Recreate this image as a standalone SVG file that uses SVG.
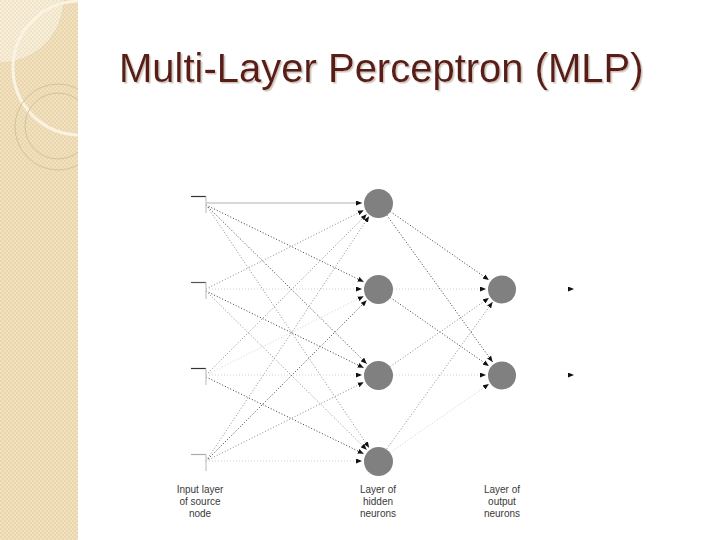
<svg xmlns="http://www.w3.org/2000/svg" width="720" height="540" viewBox="0 0 720 540">
  <defs>
    <pattern id="check" width="4" height="4" patternUnits="userSpaceOnUse">
      <rect width="4" height="4" fill="#f1e1bf"/>
      <rect width="2" height="2" fill="#e9d6ae"/>
      <rect x="2" y="2" width="2" height="2" fill="#e9d6ae"/>
    </pattern>
    <pattern id="checkLight" width="4" height="4" patternUnits="userSpaceOnUse">
      <rect width="4" height="4" fill="#f7eedb"/>
      <rect width="2" height="2" fill="#f0e3c6"/>
      <rect x="2" y="2" width="2" height="2" fill="#f0e3c6"/>
    </pattern>
    <clipPath id="panelClip"><rect x="0" y="0" width="78" height="540"/></clipPath>
    <filter id="tshadow" x="-5%" y="-20%" width="110%" height="150%">
      <feDropShadow dx="1.5" dy="1.5" stdDeviation="0.6" flood-color="#c9beb5" flood-opacity="0.9"/>
    </filter>
    <marker id="arr" markerWidth="6" markerHeight="5" refX="6" refY="2.5" orient="auto" markerUnits="userSpaceOnUse">
      <path d="M0,0 L6,2.5 L0,5 z" fill="#111"/>
    </marker>
  </defs>
  <style>
    .title { font-family: "Liberation Sans", Arial, sans-serif; font-size: 40px; fill: #5a1d12; filter: url(#tshadow); }
    .lbl { font-family: "Liberation Sans", Arial, sans-serif; font-size: 10px; fill: #3a3a3a; text-anchor: middle; }
    .neuron { fill: #808080; }
    .d1 { stroke: #3a3a3a; stroke-width: 1; stroke-dasharray: 1 2; fill: none; marker-end: url(#arr); }
    .d2 { stroke: #8a8a8a; stroke-width: 1; stroke-dasharray: 1 2; fill: none; marker-end: url(#arr); }
    .d3 { stroke: #d0d0d0; stroke-width: 1; stroke-dasharray: 1 2; fill: none; marker-end: url(#arr); }
    .s1 { stroke: #b0b0b0; stroke-width: 1; fill: none; marker-end: url(#arr); }
    .inH { stroke: #333; stroke-width: 1.2; }
    .inV { stroke: #c4c4c4; stroke-width: 1.2; }
  </style>

  <rect width="720" height="540" fill="#ffffff"/>

  <!-- decorative left panel -->
  <g id="panel" clip-path="url(#panelClip)">
    <rect x="0" y="0" width="78" height="540" fill="url(#check)"/>
    <path d="M0,0 L64,0 A64,64 0 0 1 0,63 Z" fill="url(#checkLight)"/>
    <path d="M64,0 A64,64 0 0 1 0,63" fill="none" stroke="#e4d4b4" stroke-width="0.8"/>
    <circle cx="80" cy="68" r="67" fill="none" stroke="#fbf3e2" stroke-width="3"/>
    <circle cx="58" cy="127" r="43" fill="none" stroke="#d2bd95" stroke-width="0.9"/>
    <circle cx="58" cy="126" r="33" fill="none" stroke="#d2bd95" stroke-width="0.9"/>
  </g>

  <!-- title -->
  <text class="title" x="119" y="82">Multi-Layer Perceptron (MLP)</text>

  <!-- connectors -->
  <g id="connectors">
    <!-- input 1 (206,203) -->
    <line class="s1" x1="206" y1="203" x2="362" y2="203"/>
    <line class="d1" x1="206" y1="205" x2="363.7" y2="281.8"/>
    <line class="d1" x1="206" y1="205" x2="366.7" y2="363.7"/>
    <line class="d2" x1="206" y1="205" x2="369.1" y2="447.7"/>
    <!-- input 2 (206,289) -->
    <line class="d2" x1="206" y1="289" x2="363.7" y2="210.2"/>
    <line class="d3" x1="206" y1="289" x2="362" y2="289"/>
    <line class="d1" x1="206" y1="291" x2="363.7" y2="367.8"/>
    <line class="d2" x1="206" y1="291" x2="366.7" y2="449.7"/>
    <!-- input 3 (206,375) -->
    <line class="d2" x1="206" y1="375" x2="366.7" y2="214.3"/>
    <line class="d3" x1="206" y1="375" x2="363.7" y2="296.2"/>
    <line class="d3" x1="206" y1="375" x2="362" y2="375"/>
    <line class="d1" x1="206" y1="377" x2="363.7" y2="453.8"/>
    <!-- input 4 (206,461) -->
    <line class="d2" x1="206" y1="461" x2="369.1" y2="216.3"/>
    <line class="d1" x1="206" y1="461" x2="366.7" y2="300.3"/>
    <line class="d2" x1="206" y1="461" x2="363.7" y2="382.2"/>
    <line class="d3" x1="206" y1="461" x2="362" y2="461"/>
    <!-- hidden to output -->
    <line class="d1" x1="390.3" y1="211.5" x2="488.9" y2="279.9"/>
    <line class="d1" x1="386.8" y1="215.2" x2="492.6" y2="362.0"/>
    <line class="d3" x1="393" y1="289" x2="486" y2="289"/>
    <line class="d1" x1="390.3" y1="297.5" x2="488.9" y2="365.9"/>
    <line class="d2" x1="390.3" y1="366.5" x2="488.9" y2="298.1"/>
    <line class="d3" x1="393" y1="375" x2="486" y2="375"/>
    <line class="d2" x1="386.8" y1="448.8" x2="492.6" y2="302.0"/>
    <line class="d3" x1="390.3" y1="452.5" x2="488.9" y2="384.1"/>
    <!-- outputs -->
    <line class="d3" x1="560" y1="289" x2="574" y2="289" style="stroke:#f0f0f0"/>
    <line class="d3" x1="560" y1="375" x2="574" y2="375" style="stroke:#f0f0f0"/>
  </g>

  <!-- input nodes -->
  <g id="input1"><line class="inH" x1="191" y1="196.5" x2="206" y2="196.5"/><line class="inV" x1="206" y1="196.5" x2="206" y2="213"/></g>
  <g id="input2"><line class="inH" x1="191" y1="282.5" x2="206" y2="282.5" style="stroke:#555"/><line class="inV" x1="206" y1="282.5" x2="206" y2="299"/></g>
  <g id="input3"><line class="inH" x1="191" y1="368.5" x2="206" y2="368.5"/><line class="inV" x1="206" y1="368.5" x2="206" y2="385"/></g>
  <g id="input4"><line class="inH" x1="191" y1="454.5" x2="206" y2="454.5" style="stroke:#aaa"/><line class="inV" x1="206" y1="454.5" x2="206" y2="471"/></g>

  <!-- hidden neurons -->
  <g id="hidden1"><circle class="neuron" cx="378.5" cy="203.5" r="14.5"/></g>
  <g id="hidden2"><circle class="neuron" cx="378.5" cy="289.5" r="14.5"/></g>
  <g id="hidden3"><circle class="neuron" cx="378.5" cy="375.5" r="14.5"/></g>
  <g id="hidden4"><circle class="neuron" cx="378.5" cy="461.5" r="14.5"/></g>

  <!-- output neurons -->
  <g id="output1"><circle class="neuron" cx="502" cy="289.5" r="14"/></g>
  <g id="output2"><circle class="neuron" cx="502" cy="375.5" r="14"/></g>

  <!-- labels -->
  <g id="label-input">
    <text class="lbl" x="200" y="493">Input layer</text>
    <text class="lbl" x="200" y="505">of source</text>
    <text class="lbl" x="200" y="517">node</text>
  </g>
  <g id="label-hidden">
    <text class="lbl" x="378" y="493">Layer of</text>
    <text class="lbl" x="378" y="505">hidden</text>
    <text class="lbl" x="378" y="517">neurons</text>
  </g>
  <g id="label-output">
    <text class="lbl" x="502" y="493">Layer of</text>
    <text class="lbl" x="502" y="505">output</text>
    <text class="lbl" x="502" y="517">neurons</text>
  </g>
</svg>
